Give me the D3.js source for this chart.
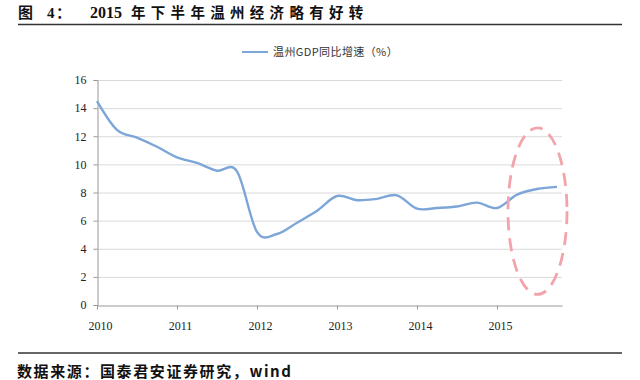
<!DOCTYPE html>
<html><head><meta charset="utf-8">
<script src="https://cdn.jsdelivr.net/npm/d3@7"></script>
<style>
html,body{margin:0;padding:0;background:#fff;}
svg{display:block;}
</style></head>
<body>
<svg id="c" width="640" height="380"></svg>
<script>
// ---- data ----
const quarters = ["2010Q1","2010Q2","2010Q3","2010Q4","2011Q1","2011Q2","2011Q3","2011Q4",
  "2012Q1","2012Q2","2012Q3","2012Q4","2013Q1","2013Q2","2013Q3","2013Q4",
  "2014Q1","2014Q2","2014Q3","2014Q4","2015Q1","2015Q2","2015Q3","2015Q4"];
const gdpGrowth = [14.5, 12.45, 11.9, 11.25, 10.5, 10.1, 9.55, 9.5,
  5.2, 5.05, 5.85, 6.7, 7.75, 7.45, 7.55, 7.8,
  6.85, 6.9, 7.0, 7.28, 6.9, 7.85, 8.25, 8.4];
const yearLabels = ["2010","2011","2012","2013","2014","2015"];
const yTicks = [0,2,4,6,8,10,12,14,16];
const seriesName = "温州GDP同比增速（%）";
const title = "年下半年温州经济略有好转";
const source = "数据来源：国泰君安证券研究，wind";
// highlighted region (quarter index span, value span)
const highlightQ = [20.55, 23.5];
const highlightV = [0.75, 12.6];

const svg = d3.select("#c");
const blue = "#7da6d8";

const x = d3.scaleLinear().domain([0, 23.25]).range([97, 562]);
const y = d3.scaleLinear().domain([0, 16]).range([305, 80]);

// title
const t = svg.append("g").attr("font-family","'Noto Sans CJK SC','Noto Sans',sans-serif").attr("font-weight","700").attr("fill","#111");
t.append("text").attr("x",18).attr("y",18).attr("font-size",15).text("图");
t.append("text").attr("x",47).attr("y",18).attr("font-size",15).attr("font-family","'Liberation Serif',serif").text("4");
t.append("text").attr("x",56).attr("y",18).attr("font-size",15).text("：");
t.append("text").attr("x",90).attr("y",18).attr("font-size",16).attr("font-family","'Liberation Serif',serif").text("2015");
t.append("text").attr("x",131).attr("y",18).attr("font-size",14.5).attr("letter-spacing",5.3).text(title);
svg.append("line").attr("x1",18).attr("x2",622).attr("y1",24.5).attr("y2",24.5).attr("stroke","#333").attr("stroke-width",1.3);

// footer
svg.append("line").attr("x1",18).attr("x2",622).attr("y1",353).attr("y2",353).attr("stroke","#333").attr("stroke-width",1.3);
svg.append("text").attr("x",17).attr("y",377).attr("font-size",15).attr("font-weight","700")
  .attr("letter-spacing",1.6)
  .attr("font-family","'Noto Sans CJK SC','Noto Sans',sans-serif").attr("fill","#111").text(source);

// gridlines
svg.append("g").selectAll("line").data(yTicks.filter(d=>d>0)).join("line")
  .attr("x1",x(0)).attr("x2",x(23.25)).attr("y1",d=>y(d)+0.5).attr("y2",d=>y(d)+0.5)
  .attr("stroke","#dadada").attr("stroke-width",1);

// y axis
const yAxis = svg.append("g").attr("transform",`translate(${x(0)+0.5},0)`)
  .call(d3.axisLeft(y).tickValues(yTicks).tickSize(4).tickPadding(7).tickFormat(d3.format("d")));
yAxis.select(".domain").attr("stroke","#999");
yAxis.selectAll(".tick line").attr("stroke","#999");
yAxis.selectAll("text").attr("font-family","'Liberation Serif',serif").attr("font-size",12).attr("fill","#222");

// x axis
const xAxis = svg.append("g").attr("transform",`translate(0,${y(0)+0.5})`)
  .call(d3.axisBottom(x).tickValues(d3.range(0,24,4)).tickSize(4).tickPadding(12)
    .tickFormat((d,i)=>yearLabels[i]).tickSizeOuter(0));
xAxis.select(".domain").attr("stroke","#999");
xAxis.selectAll(".tick line").attr("stroke","#999");
xAxis.selectAll("text").attr("font-family","'Liberation Serif',serif").attr("font-size",12).attr("fill","#222").attr("dx",3);

// line
const line = d3.line().x((d,i)=>x(i)).y(d=>y(d)).curve(d3.curveCatmullRom.alpha(0));
svg.append("path").datum(gdpGrowth).attr("d",line).attr("fill","none")
  .attr("stroke",blue).attr("stroke-width",2.4);

// highlight ellipse
const cx = (x(highlightQ[0])+x(highlightQ[1]))/2, cy = (y(highlightV[0])+y(highlightV[1]))/2;
svg.append("ellipse").attr("cx",cx).attr("cy",cy)
  .attr("rx",(x(highlightQ[1])-x(highlightQ[0]))/2).attr("ry",(y(highlightV[0])-y(highlightV[1]))/2)
  .attr("fill","none").attr("stroke","#f3a3aa").attr("stroke-width",2.8).attr("stroke-dasharray","13,8");

// legend
svg.append("line").attr("x1",242).attr("x2",268).attr("y1",52).attr("y2",52).attr("stroke",blue).attr("stroke-width",2);
svg.append("text").attr("x",273).attr("y",56).attr("font-size",11).attr("letter-spacing",0.4)
  .attr("font-family","'Noto Sans CJK SC','Noto Sans',sans-serif").attr("fill","#333").text(seriesName);
</script>
</body></html>
